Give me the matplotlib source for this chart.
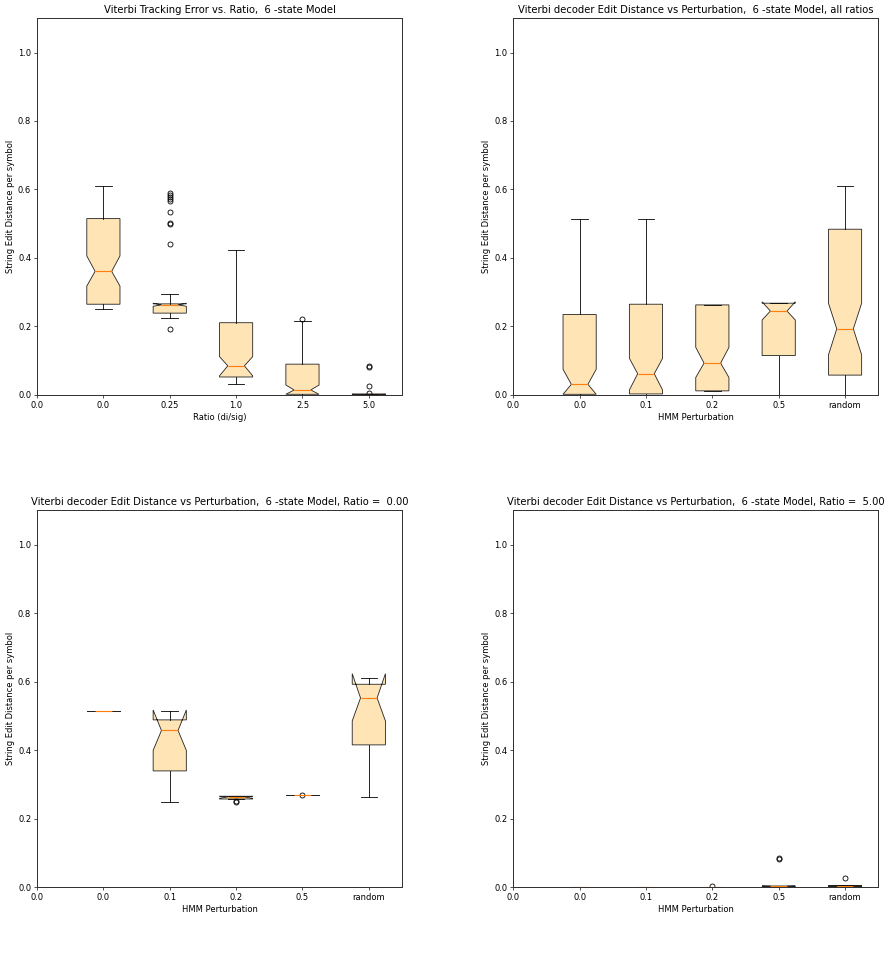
import matplotlib
matplotlib.use('Agg')
import matplotlib.pyplot as plt

plt.rcParams['lines.linewidth'] = 1.2
plt.rcParams['patch.linewidth'] = 1.2
plt.rcParams['axes.linewidth'] = 1.2
plt.rcParams['axes.edgecolor'] = '#333333'

ylabel = 'String Edit Distance per symbol'
ratio_labels = ['0.0', '0.25', '1.0', '2.5', '5.0']
pert_labels = ['0.0', '0.1', '0.2', '0.5', 'random']

# box stats: whislo, q1, cilo, med, cihi, q3, whishi
ratio_whislo = [0.250, 0.226, 0.031, 0.0, 0.0]
ratio_q1 = [0.265, 0.239, 0.0525, 0.002, 0.0]
ratio_cilo = [0.318, 0.259, 0.056, 0.002, 0.0]
ratio_med = [0.361, 0.263, 0.085, 0.0146, 0.001]
ratio_cihi = [0.406, 0.268, 0.112, 0.029, 0.002]
ratio_q3 = [0.515, 0.266, 0.211, 0.090, 0.003]
ratio_whishi = [0.611, 0.294, 0.423, 0.217, 0.003]
ratio_fliers = [[],
                [0.589, 0.583, 0.577, 0.571, 0.566, 0.535, 0.502, 0.499, 0.441, 0.193],
                [],
                [0.222],
                [0.0856, 0.083, 0.026, 0.007]]

all_whislo = [0.0, 0.0, 0.012, 0.0, 0.0]
all_q1 = [0.002, 0.003, 0.012, 0.115, 0.058]
all_cilo = [0.002, 0.0146, 0.051, 0.219, 0.117]
all_med = [0.031, 0.062, 0.093, 0.245, 0.193]
all_cihi = [0.075, 0.107, 0.139, 0.272, 0.268]
all_q3 = [0.235, 0.265, 0.263, 0.268, 0.484]
all_whishi = [0.514, 0.514, 0.264, 0.268, 0.611]
all_fliers = [[], [], [], [], []]

r0_whislo = [0.514, 0.249, 0.257, 0.268, 0.263]
r0_q1 = [0.514, 0.339, 0.257, 0.268, 0.415]
r0_cilo = [0.514, 0.399, 0.259, 0.268, 0.485]
r0_med = [0.514, 0.457, 0.263, 0.268, 0.552]
r0_cihi = [0.514, 0.517, 0.265, 0.268, 0.623]
r0_q3 = [0.514, 0.488, 0.265, 0.268, 0.592]
r0_whishi = [0.514, 0.514, 0.265, 0.268, 0.609]
r0_fliers = [[], [], [0.2495, 0.252], [0.268], []]

r5_whislo = [0.0, 0.0, 0.0, 0.0, 0.0]
r5_q1 = [0.0, 0.0, 0.0, 0.0, 0.0]
r5_cilo = [0.0, 0.0, 0.0, 0.001, 0.002]
r5_med = [0.0, 0.0, 0.0, 0.002, 0.003]
r5_cihi = [0.0, 0.0, 0.0, 0.003, 0.004]
r5_q3 = [0.0, 0.0, 0.0, 0.003, 0.004]
r5_whishi = [0.0, 0.0, 0.0, 0.003, 0.007]
r5_fliers = [[], [], [0.002], [0.0845, 0.0825], [0.026]]


def make_stats(whislo, q1, cilo, med, cihi, q3, whishi, fliers):
    return [{'whislo': a, 'q1': b, 'cilo': c, 'med': d, 'cihi': e,
             'q3': f, 'whishi': g, 'fliers': h}
            for a, b, c, d, e, f, g, h in
            zip(whislo, q1, cilo, med, cihi, q3, whishi, fliers)]


def draw(ax, stats, labels, title, xlabel):
    bp = ax.bxp(stats, positions=range(1, len(stats) + 1), widths=0.5,
                shownotches=True, patch_artist=True,
                medianprops={'color': '#ff7f0e', 'linewidth': 1.4})
    for box in bp['boxes']:
        box.set_facecolor('moccasin')
        box.set_edgecolor('#222222')
    ax.set_xlim(0, 5.5)
    ax.set_ylim(0, 1.1)
    ax.set_xticks(range(0, len(labels) + 1))
    ax.set_xticklabels(['0.0'] + labels)
    ax.set_title(title)
    ax.set_xlabel(xlabel)
    ax.set_ylabel(ylabel)


fig = plt.figure(figsize=(14.8, 961 / 60), dpi=60)
w, h = 0.411, 0.392
ax1 = fig.add_axes([0.0417, 0.589, w, h])
ax2 = fig.add_axes([0.578, 0.589, w, h])
ax3 = fig.add_axes([0.0417, 0.077, w, h])
ax4 = fig.add_axes([0.578, 0.077, w, h])

draw(ax1, make_stats(ratio_whislo, ratio_q1, ratio_cilo, ratio_med, ratio_cihi,
                     ratio_q3, ratio_whishi, ratio_fliers),
     ratio_labels, 'Viterbi Tracking Error vs. Ratio,  6 -state Model', 'Ratio (di/sig)')
draw(ax2, make_stats(all_whislo, all_q1, all_cilo, all_med, all_cihi,
                     all_q3, all_whishi, all_fliers),
     pert_labels, 'Viterbi decoder Edit Distance vs Perturbation,  6 -state Model, all ratios',
     'HMM Perturbation')
draw(ax3, make_stats(r0_whislo, r0_q1, r0_cilo, r0_med, r0_cihi,
                     r0_q3, r0_whishi, r0_fliers),
     pert_labels, 'Viterbi decoder Edit Distance vs Perturbation,  6 -state Model, Ratio =  0.00',
     'HMM Perturbation')
draw(ax4, make_stats(r5_whislo, r5_q1, r5_cilo, r5_med, r5_cihi,
                     r5_q3, r5_whishi, r5_fliers),
     pert_labels, 'Viterbi decoder Edit Distance vs Perturbation,  6 -state Model, Ratio =  5.00',
     'HMM Perturbation')

fig.savefig('out.png', dpi=60)
